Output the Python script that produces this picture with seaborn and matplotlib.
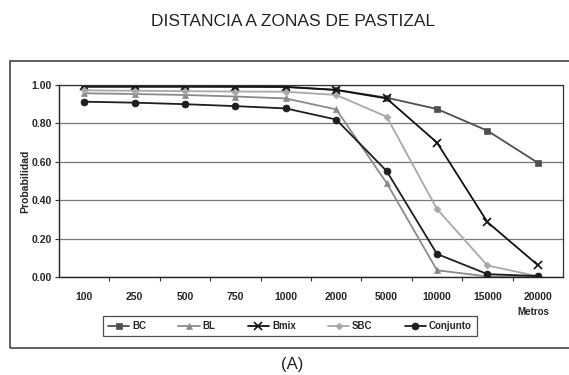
import matplotlib
matplotlib.use("Agg")
import matplotlib.pyplot as plt
import seaborn as sns
import pandas as pd
from matplotlib.patches import Rectangle

categories = ["100", "250", "500", "750", "1000", "2000", "5000", "10000", "15000", "20000"]
bc = [0.990, 0.990, 0.990, 0.990, 0.990, 0.975, 0.934, 0.875, 0.762, 0.595]
bl = [0.957, 0.953, 0.948, 0.940, 0.930, 0.873, 0.490, 0.035, 0.003, 0.002]
bmix = [0.993, 0.993, 0.993, 0.992, 0.990, 0.974, 0.930, 0.700, 0.286, 0.062]
sbc = [0.972, 0.970, 0.968, 0.966, 0.965, 0.948, 0.835, 0.354, 0.060, 0.004]
conjunto = [0.913, 0.908, 0.900, 0.890, 0.878, 0.820, 0.552, 0.120, 0.015, 0.005]

series_names = ["BC", "BL", "Bmix", "SBC", "Conjunto"]
series_vals = [bc, bl, bmix, sbc, conjunto]
colors = ["#505050", "#8a8a8a", "#111111", "#a8a8a8", "#1e1e1e"]
markers = ["s", "^", "x", "D", "o"]
msizes = [5, 5, 6, 3.5, 5]

sns.set_theme(style="white")
plt.rcParams['font.family'] = ['Liberation Sans', 'DejaVu Sans']

fig = plt.figure(figsize=(5.69, 3.75), dpi=100)
W, H = 569, 375
ax = fig.add_axes([59 / W, 1 - 277 / H, 504 / W, 192 / H])

pos = list(range(len(categories)))
for name, vals, c, m, ms in zip(series_names, series_vals, colors, markers, msizes):
    df = pd.DataFrame({"x": pos, "y": vals})
    sns.lineplot(data=df, x="x", y="y", ax=ax, color=c, marker=m, markersize=ms,
                 markeredgecolor=c, markeredgewidth=1.2 if m == "x" else 0.5,
                 linewidth=1.3, label=name, legend=False)

ax.set_xlim(-0.5, len(categories) - 0.5)
ax.set_ylim(0, 1.0)
ax.set_yticks([0, 0.2, 0.4, 0.6, 0.8, 1.0])
ax.set_yticklabels(["0.00", "0.20", "0.40", "0.60", "0.80", "1.00"],
                   fontsize=7.5, fontweight="bold")
ax.set_xticks(pos)
ax.set_xticklabels(categories, fontsize=7.5, fontweight="bold")
ax.set_xticks([p + 0.5 for p in pos[:-1]], minor=True)
ax.tick_params(axis="x", which="major", length=0, pad=11)
ax.tick_params(axis="x", which="minor", length=3, width=0.8, color="#333333", direction="out", bottom=True)
ax.tick_params(axis="y", length=3, width=0.8, color="#333333", direction="out", left=True, pad=2)
ax.yaxis.grid(True, color="#777777", linewidth=0.9)
ax.xaxis.grid(False)
ax.set_axisbelow(True)
ax.set_xlabel("")
ax.set_ylabel("Probabilidad", fontsize=7.5, fontweight="bold", labelpad=1)
for s in ["left", "bottom"]:
    ax.spines[s].set_color("#222222")
    ax.spines[s].set_linewidth(1.0)
for s in ["top", "right"]:
    ax.spines[s].set_color("#333333")
    ax.spines[s].set_linewidth(0.9)

fig.text(533 / W, 1 - 312 / H, "Metros", fontsize=7, fontweight="bold",
         ha="center", va="center")

handles, labels = ax.get_legend_handles_labels()
leg = fig.legend(handles, labels, loc="center", bbox_to_anchor=(290 / W, 1 - 326 / H),
                 ncol=5, frameon=True, fancybox=False,
                 prop={"weight": "bold", "size": 7}, handlelength=2.2,
                 columnspacing=3.3, handletextpad=0.3, borderpad=0.5)
leg.get_frame().set_edgecolor("#222222")
leg.get_frame().set_linewidth(0.9)

fig.patches.append(Rectangle((10 / W, 1 - 348 / H), 1.0, (348 - 61) / H,
                             transform=fig.transFigure, fill=False,
                             edgecolor="#444444", linewidth=1.2))

fig.text(293 / W, 1 - 22 / H, "DISTANCIA A ZONAS DE PASTIZAL", fontsize=12.5,
         ha="center", va="center", color="#222222")
fig.text(292 / W, 1 - 364 / H, "(A)", fontsize=12,
         ha="center", va="center", color="#222222")

fig.savefig("out.png", dpi=100)
